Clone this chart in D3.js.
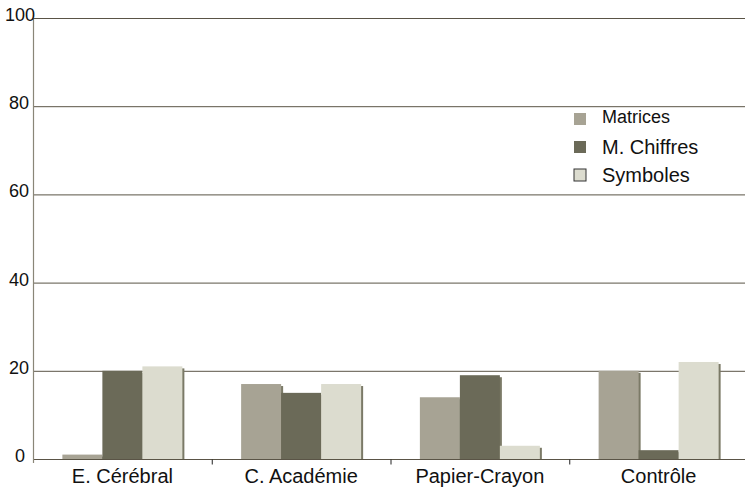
<!DOCTYPE html>
<html>
<head>
<meta charset="utf-8">
<script src="https://cdn.jsdelivr.net/npm/d3@7"></script>
<style>
  body { margin: 0; background: #fff; }
  svg text { font-family: "Liberation Sans", Arial, sans-serif; fill: #111; }
</style>
</head>
<body>
<svg width="745" height="490"></svg>
<script>
var categories = ["E. Cérébral", "C. Académie", "Papier-Crayon", "Contrôle"];
var series = ["Matrices", "M. Chiffres", "Symboles"];
var matrices = [1, 17, 14, 20];
var mChiffres = [20, 15, 19, 2];
var symboles = [21, 17, 3, 22];
var yTicks = [0, 20, 40, 60, 80, 100];

var values = [matrices, mChiffres, symboles];
var colors = ["#a7a394", "#6b6a58", "#dcdccf"];
var shadowColor = "#7b7a67";
var lineColor = "#5a5446";

var margin = { top: 18, left: 33, bottom: 31, right: -3 };
var svg = d3.select("svg");
var width = 745, height = 490;

var xScale = d3.scaleBand()
    .domain(categories)
    .range([margin.left, width - margin.right]);

var xSub = d3.scaleBand()
    .domain(series)
    .range([0, 120]);

var yScale = d3.scaleLinear()
    .domain([0, 100])
    .range([height - margin.bottom, margin.top]);

// gridlines
svg.append("g").selectAll("line")
    .data(yTicks.filter(d => d > 0))
    .enter().append("line")
    .attr("x1", margin.left).attr("x2", width)
    .attr("y1", d => yScale(d) + 0.5).attr("y2", d => yScale(d) + 0.5)
    .attr("stroke", lineColor).attr("stroke-width", 1);

// bars, each series drawn with its shadow first
var groupOffset = (xScale.bandwidth() - 120) / 2;
values.forEach(function (vals, i) {
  var g = svg.append("g");
  g.selectAll(".shadow").data(vals).enter().append("rect")
    .attr("class", "shadow")
    .attr("x", (d, j) => xScale(categories[j]) + groupOffset + xSub(series[i]) + 2)
    .attr("y", d => yScale(d) + 2)
    .attr("width", xSub.bandwidth())
    .attr("height", d => Math.max(0, yScale(0) - yScale(d) - 2))
    .attr("fill", shadowColor);
  g.selectAll(".bar").data(vals).enter().append("rect")
    .attr("class", "bar")
    .attr("x", (d, j) => xScale(categories[j]) + groupOffset + xSub(series[i]))
    .attr("y", d => yScale(d))
    .attr("width", xSub.bandwidth())
    .attr("height", d => yScale(0) - yScale(d))
    .attr("fill", colors[i]);
});

// x axis
var xAxis = d3.axisBottom(xScale).tickSize(0).tickPadding(9);
var xg = svg.append("g")
    .attr("transform", "translate(0," + (yScale(0) + 0.5) + ")")
    .call(xAxis);
xg.select(".domain").remove();
xg.append("line")
    .attr("x1", margin.left).attr("x2", width)
    .attr("stroke", lineColor);
xg.selectAll(".tick text")
    .attr("font-size", 20).attr("fill", "#111")
    .style("font-family", "'Liberation Sans', Arial, sans-serif");
xg.selectAll(".sep")
    .data(categories.slice(1))
    .enter().append("line")
    .attr("class", "sep")
    .attr("x1", d => xScale(d) + 0.5).attr("x2", d => xScale(d) + 0.5)
    .attr("y1", 0).attr("y2", 5)
    .attr("stroke", "#222");

// y axis
svg.append("line")
    .attr("x1", margin.left + 0.5).attr("x2", margin.left + 0.5)
    .attr("y1", yScale(100)).attr("y2", yScale(0) + 4)
    .attr("stroke", "#8a8678").attr("stroke-width", 1.2);

svg.append("g").selectAll("text")
    .data(yTicks)
    .enter().append("text")
    .attr("x", d => d === 100 ? 5 : (d === 0 ? 25 : 29))
    .attr("y", d => yScale(d) - 3)
    .attr("text-anchor", d => d === 100 ? "start" : "end")
    .attr("dominant-baseline", "central")
    .attr("font-size", 18)
    .text(d => d);

// legend
var legendY = [119, 147, 175];
var legendSize = [18, 20, 20];
var legend = svg.append("g").selectAll("g")
    .data(series)
    .enter().append("g")
    .attr("transform", (d, i) => "translate(574," + legendY[i] + ")");
legend.append("rect")
    .attr("x", 0).attr("y", -6)
    .attr("width", 12).attr("height", 12)
    .attr("fill", (d, i) => colors[i])
    .attr("stroke", (d, i) => i === 2 ? "#333" : "none")
    .attr("stroke-width", 1);
legend.append("text")
    .attr("x", 28).attr("y", (d, i) => i === 0 ? -2 : 0)
    .attr("dominant-baseline", "central")
    .attr("font-size", (d, i) => legendSize[i])
    .text(d => d);
</script>
</body>
</html>
